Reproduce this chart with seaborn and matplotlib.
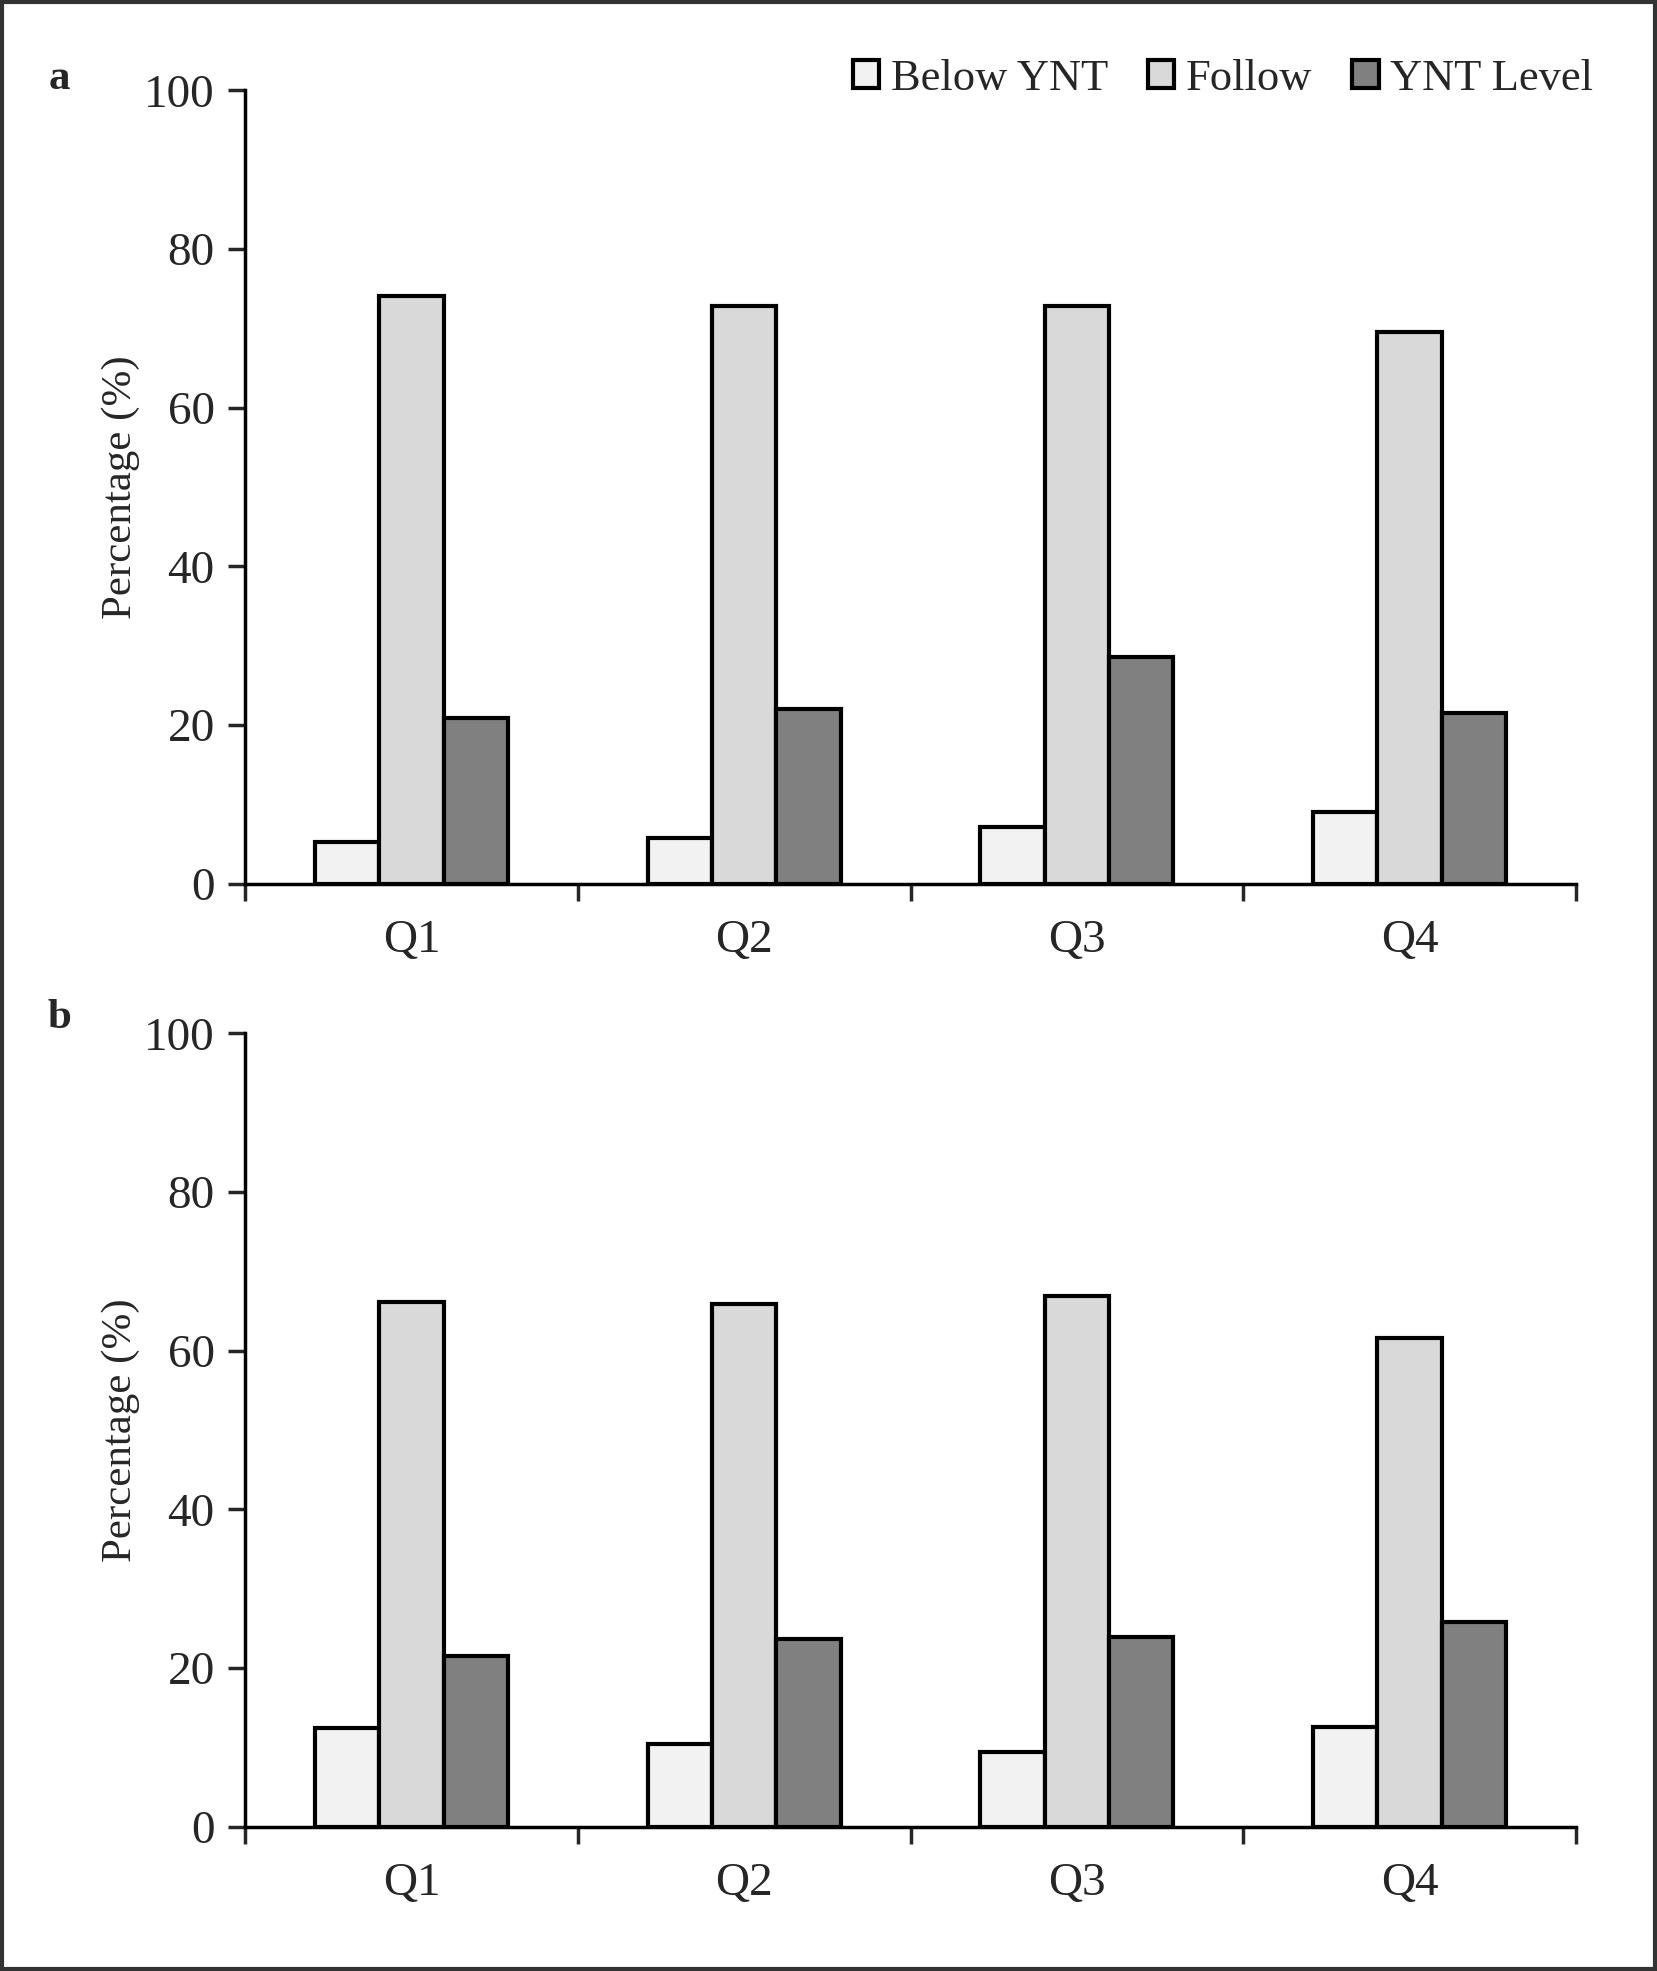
import pandas as pd
import seaborn as sns
from matplotlib import pyplot as plt
from matplotlib.patches import Rectangle

quarters = ["Q1", "Q2", "Q3", "Q4"]
categories = ["Below YNT", "Follow", "YNT Level"]

# panel a
below_a = [5.2, 5.7, 7.1, 9.0]
follow_a = [74.1, 72.8, 72.8, 69.6]
ynt_a = [20.9, 22.0, 28.6, 21.5]

# panel b
below_b = [12.4, 10.4, 9.4, 12.6]
follow_b = [66.1, 65.9, 66.9, 61.6]
ynt_b = [21.5, 23.7, 23.9, 25.8]

colors = ["#f2f2f2", "#d9d9d9", "#808080"]


def make_frame(below, follow, ynt):
    rows = []
    for q, b, f, y in zip(quarters, below, follow, ynt):
        rows.append({"Quarter": q, "Category": "Below YNT", "Percentage": b})
        rows.append({"Quarter": q, "Category": "Follow", "Percentage": f})
        rows.append({"Quarter": q, "Category": "YNT Level", "Percentage": y})
    return pd.DataFrame(rows)


sns.set_theme(style="ticks")
plt.rcParams['font.family'] = ['Liberation Serif', 'DejaVu Serif']

fig = plt.figure(figsize=(16.57, 19.71), dpi=100)
fig.patch.set_facecolor("white")

ax_a = fig.add_axes([0.148, 0.5517, 0.803, 0.4024])
ax_b = fig.add_axes([0.148, 0.0733, 0.803, 0.4024])

for ax, (below, follow, ynt), letter, ly in [
    (ax_a, (below_a, follow_a, ynt_a), "a", 0.960),
    (ax_b, (below_b, follow_b, ynt_b), "b", 0.4834),
]:
    df = make_frame(below, follow, ynt)
    sns.barplot(data=df, x="Quarter", y="Percentage", hue="Category",
                hue_order=categories, order=quarters, palette=colors,
                width=0.58, edgecolor="black", linewidth=3,
                saturation=1, ax=ax, legend=(ax is ax_a))
    ax.set_xlim(-0.5, 3.5)
    ax.set_ylim(0, 100)
    ax.set_yticks([0, 20, 40, 60, 80, 100])
    ax.set_xticks([-0.5, 0.5, 1.5, 2.5, 3.5], minor=True)
    ax.tick_params(axis="x", which="major", length=0, pad=26, labelsize=34)
    ax.tick_params(axis="x", which="minor", length=12, width=2.5, direction="out")
    ax.tick_params(axis="y", length=12, width=2.5, direction="out", labelsize=34, pad=10)
    for s in ["top", "right"]:
        ax.spines[s].set_visible(False)
    for s in ["left", "bottom"]:
        ax.spines[s].set_linewidth(2.5)
        ax.spines[s].set_color("black")
    ax.set_xlabel("")
    ax.set_ylabel("Percentage (%)", fontsize=31)
    ax.yaxis.set_label_coords(-0.079, 0.5)
    ax.set_facecolor("white")
    fig.text(0.0357, ly, letter, fontsize=31, fontweight="bold", va="center", ha="center")

handles, labels = ax_a.get_legend_handles_labels()
ax_a.get_legend().remove()
leg = fig.legend(handles, labels, loc="center right", bbox_to_anchor=(0.972, 0.960),
                 ncol=3, frameon=False, fontsize=32, handlelength=0.6, handleheight=0.6,
                 handletextpad=0.25, columnspacing=0.9, borderaxespad=0)
for p in leg.get_patches():
    p.set_linewidth(3)

# outer frame
fig.patches.append(Rectangle((0.001, 0.001), 0.998, 0.998, transform=fig.transFigure,
                             fill=False, edgecolor="#333333", linewidth=3))

fig.savefig("out.png", dpi=100, facecolor="white")
